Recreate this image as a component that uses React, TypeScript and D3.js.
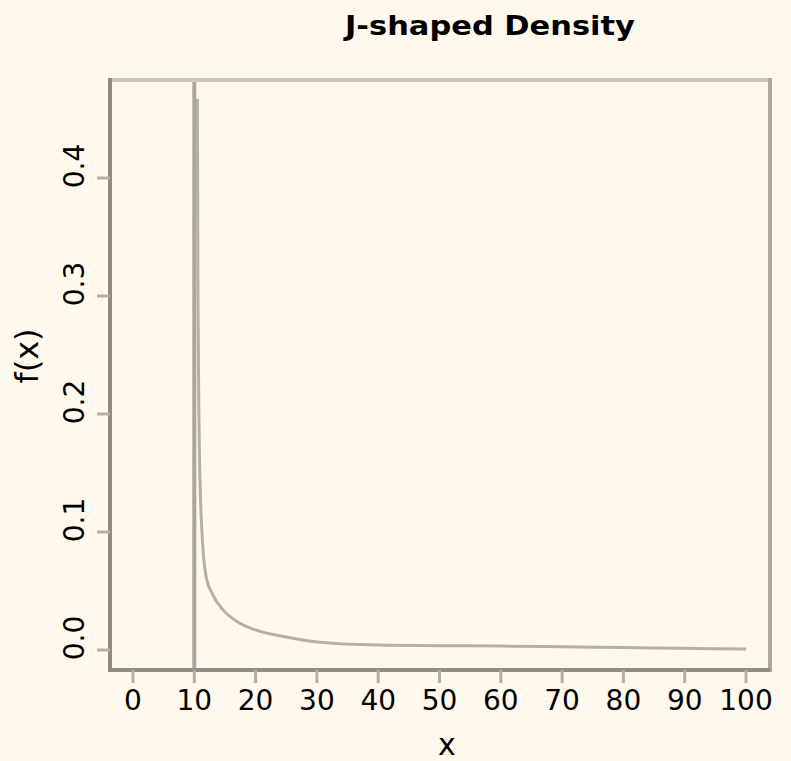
import React from "react";
import * as d3 from "d3";

const W = 791;
const H = 761;

const title = "J-shaped Density";
const xLabel = "x";
const yLabel = "f(x)";

const xTicks = [0, 10, 20, 30, 40, 50, 60, 70, 80, 90, 100];
const yTicks = [0.0, 0.1, 0.2, 0.3, 0.4];
const vLineX = 10;

const curveX = [10.5, 10.6, 10.75, 10.95, 11.2, 11.5, 11.9, 13, 14.7, 17, 20, 25, 30, 40, 50, 60, 70, 80, 90, 100];
const curveY = [0.467, 0.3, 0.2, 0.14, 0.105, 0.08, 0.063, 0.047, 0.034, 0.024, 0.017, 0.011, 0.0068, 0.0042, 0.0037, 0.0033, 0.0028, 0.0021, 0.0014, 0.0008];

export default function App() {
  const box = { left: 110, right: 770, top: 80, bottom: 670 };
  const x = d3.scaleLinear().domain([0, 100]).range([133, 746]);
  const y = d3.scaleLinear().domain([0, 0.4]).range([650, 178]);

  const pts: [number, number][] = curveX.map((v, i) => [v, curveY[i]]);
  const line = d3
    .line<[number, number]>()
    .x((d) => x(d[0]))
    .y((d) => y(d[1]))
    .curve(d3.curveMonotoneX);

  const font = "'DejaVu Sans', sans-serif";
  const fmt = d3.format(".1f");

  return (
    <svg
      width={W}
      height={H}
      style={{ position: "absolute", left: 0, top: 0 }}
      xmlns="http://www.w3.org/2000/svg"
    >
      <rect x={0} y={0} width={W} height={H} fill="#fff8ec" />
      <text
        x={490}
        y={35}
        textAnchor="middle"
        fontFamily={font}
        fontWeight="bold"
        fontSize={27}
        fill="#000"
        textLength={290}
        lengthAdjust="spacingAndGlyphs"
      >
        {title}
      </text>

      {/* vertical reference line */}
      <line
        x1={x(vLineX)}
        x2={x(vLineX)}
        y1={box.top}
        y2={box.bottom}
        stroke="#aaa69e"
        strokeWidth={4}
      />

      {/* density curve */}
      <path d={line(pts) || ""} fill="none" stroke="#b4afa7" strokeWidth={3} />

      {/* box */}
      <line x1={box.left} x2={box.right} y1={box.top} y2={box.top} stroke="#cdc8bf" strokeWidth={4} />
      <line x1={box.right} x2={box.right} y1={box.top - 2} y2={box.bottom + 2} stroke="#aca79f" strokeWidth={4} />
      <line x1={box.left} x2={box.right} y1={box.bottom} y2={box.bottom} stroke="#928d85" strokeWidth={4} />
      <line x1={box.left} x2={box.left} y1={box.top - 2} y2={box.bottom + 2} stroke="#8e8981" strokeWidth={4} />

      {/* x axis */}
      {xTicks.map((t) => (
        <g key={"x" + t}>
          <line x1={x(t)} x2={x(t)} y1={box.bottom} y2={box.bottom + 13} stroke="#b3aea6" strokeWidth={3} />
          <text x={x(t)} y={710} textAnchor="middle" fontFamily={font} fontSize={28} fill="#000">
            {t}
          </text>
        </g>
      ))}

      {/* y axis */}
      {yTicks.map((t) => (
        <g key={"y" + t}>
          <line x1={box.left - 13} x2={box.left} y1={y(t)} y2={y(t)} stroke="#b3aea6" strokeWidth={3} />
          <text
            transform={`translate(84,${y(t) - 12}) rotate(-90)`}
            textAnchor="middle"
            fontFamily={font}
            fontSize={28}
            fill="#000"
          >
            {fmt(t)}
          </text>
        </g>
      ))}

      <text x={447} y={755} textAnchor="middle" fontFamily={font} fontSize={30} fill="#000">
        {xLabel}
      </text>
      <text
        transform={`translate(38,356) rotate(-90)`}
        textAnchor="middle"
        fontFamily={font}
        fontSize={32}
        fill="#000"
      >
        {yLabel}
      </text>
    </svg>
  );
}
